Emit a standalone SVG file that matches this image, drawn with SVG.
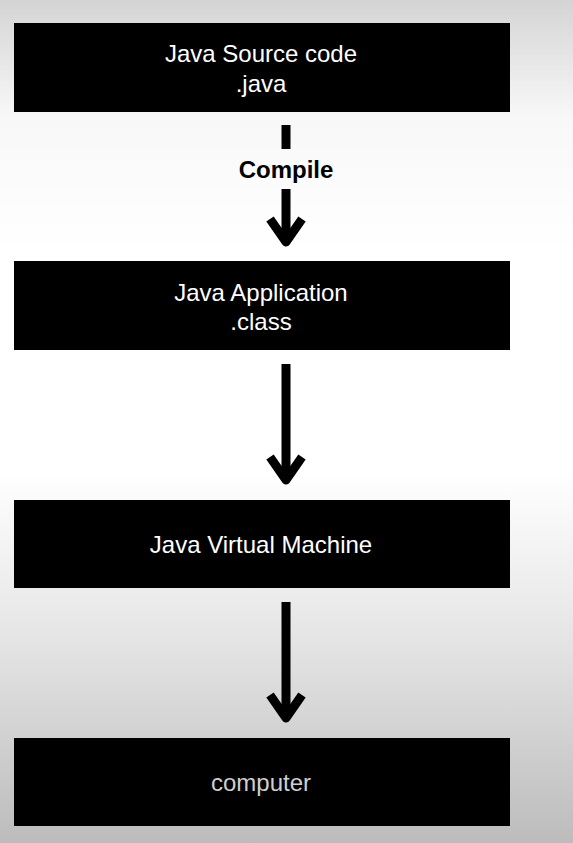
<svg xmlns="http://www.w3.org/2000/svg" width="573" height="843" viewBox="0 0 573 843">
  <defs>
    <linearGradient id="bg" x1="0" y1="0" x2="0" y2="1">
      <stop offset="0" stop-color="#d4d4d4"/>
      <stop offset="0.14" stop-color="#f8f8f8"/>
      <stop offset="0.3" stop-color="#ffffff"/>
      <stop offset="0.56" stop-color="#ffffff"/>
      <stop offset="0.75" stop-color="#e6e6e6"/>
      <stop offset="1" stop-color="#bcbcbc"/>
    </linearGradient>
    <style>
      .box { fill: #000000; }
      .lbl { font-family: "Liberation Sans", Arial, sans-serif; font-size: 24px; fill: #ffffff; text-anchor: middle; }
      .cmp { font-family: "Liberation Sans", Arial, sans-serif; font-size: 24px; font-weight: bold; fill: #000000; text-anchor: middle; }
      .shaft { stroke: #000000; stroke-width: 9; fill: none; }
      .head { stroke: #000000; stroke-width: 9; fill: none; stroke-linejoin: round; stroke-linecap: butt; }
    </style>
  </defs>
  <rect width="573" height="843" fill="url(#bg)"/>

  <g id="connectors">
    <line class="shaft" x1="286" y1="125" x2="286" y2="149"/>
    <line class="shaft" x1="286" y1="189" x2="286" y2="242"/>
    <polyline class="head" points="270,219 286,242 302,219"/>
    <line class="shaft" x1="286" y1="364" x2="286" y2="480"/>
    <polyline class="head" points="270,457 286,480 302,457"/>
    <line class="shaft" x1="286" y1="602" x2="286" y2="718"/>
    <polyline class="head" points="270,695 286,718 302,695"/>
    <text class="cmp" x="286" y="178">Compile</text>
  </g>

  <g id="source">
    <rect class="box" x="14" y="23" width="496" height="89"/>
    <text class="lbl" x="261" y="62">Java Source code</text>
    <text class="lbl" x="261" y="92">.java</text>
  </g>

  <g id="application">
    <rect class="box" x="14" y="261" width="496" height="89"/>
    <text class="lbl" x="261" y="301">Java Application</text>
    <text class="lbl" x="261" y="330">.class</text>
  </g>

  <g id="jvm">
    <rect class="box" x="14" y="500" width="496" height="88"/>
    <text class="lbl" x="261" y="553">Java Virtual Machine</text>
  </g>

  <g id="computer">
    <rect class="box" x="14" y="738" width="496" height="88"/>
    <text class="lbl" x="261" y="791" style="fill:#cfcfcf">computer</text>
  </g>
</svg>
